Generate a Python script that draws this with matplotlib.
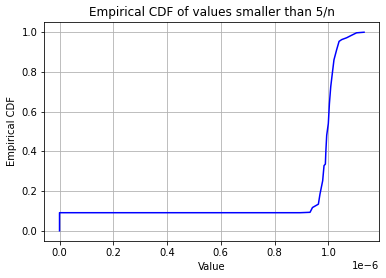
import matplotlib
matplotlib.use("Agg")
import matplotlib.pyplot as plt

# Values (x in units of 1e-6)
x_vals = [0.0, 0.0, 0.895, 0.932, 0.941, 0.963, 0.969, 0.979, 0.984, 0.989, 0.991,
          0.994, 1.000, 1.004, 1.009, 1.015, 1.021, 1.031, 1.040, 1.050, 1.068,
          1.087, 1.105, 1.133]
cdf_vals = [0.0, 0.091, 0.091, 0.093, 0.117, 0.134, 0.185, 0.252, 0.328, 0.336, 0.405,
            0.481, 0.540, 0.640, 0.726, 0.794, 0.861, 0.912, 0.954, 0.963, 0.972,
            0.985, 0.997, 1.0]

x = [v * 1e-6 for v in x_vals]

fig = plt.figure(figsize=(386 / 72, 278 / 72), dpi=72)
ax = fig.add_axes([44.3 / 386, 37.3 / 278, 335 / 386, 218.4 / 278])
ax.plot(x, cdf_vals, color="blue", linewidth=1.5)
ax.set_title("Empirical CDF of values smaller than 5/n")
ax.set_xlabel("Value")
ax.set_ylabel("Empirical CDF")
ax.grid(True)
fig.savefig("out.png", dpi=72)
